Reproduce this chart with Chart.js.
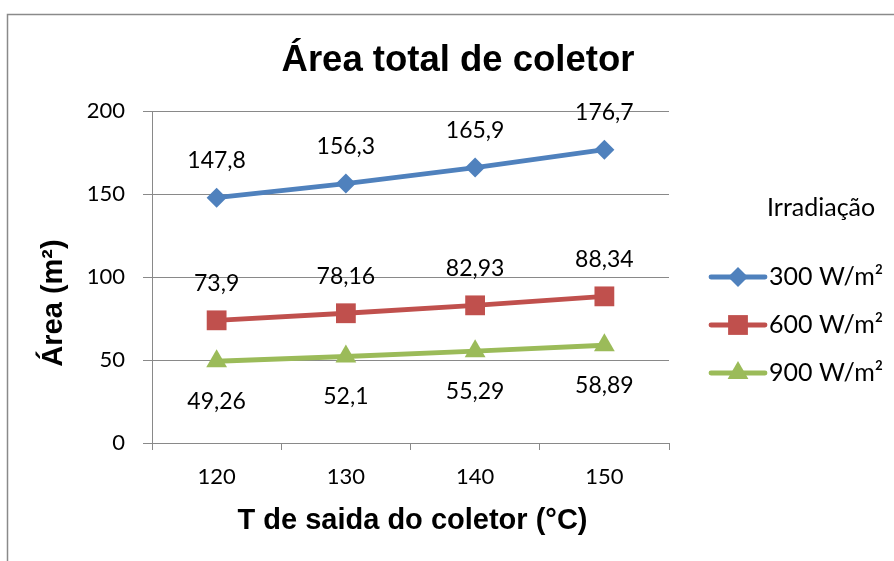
<!DOCTYPE html>
<html>
<head>
<meta charset="utf-8">
<script src="https://cdn.jsdelivr.net/npm/chart.js@4/dist/chart.umd.min.js"></script>
<style>
  html, body { margin: 0; padding: 0; background: #fff; }
  #wrap { position: relative; width: 894px; height: 561px; }
</style>
</head>
<body>
<div id="wrap"><canvas id="c" width="894" height="561"></canvas></div>
<script>
// Outlet temperature of the collector (°C)
const temperatures = ['120', '130', '140', '150'];
// Total collector area (m²) per irradiance level
const area300 = [147.8, 156.3, 165.9, 176.7];
const area600 = [73.9, 78.16, 82.93, 88.34];
const area900 = [49.26, 52.1, 55.29, 58.89];
const seriesNames = ['300 W/m²', '600 W/m²', '900 W/m²'];
const legendHeading = 'Irradiação';
const yTicks = [0, 50, 100, 150, 200];

const chartTitle = 'Área total de coletor';
const xTitle = 'T de saida do coletor (°C)';
const yTitle = 'Área (m²)';

const BLUE = '#4F81BD', RED = '#C0504D', GREEN = '#9BBB59';
const GRID = '#898989';
const LABEL_FONT = '23px Lato';
const LEGEND_FONT = '25px Lato';
const BOLD = 'bold 29px "Liberation Sans", Arial, sans-serif';

function fmt(v) { return String(v).replace('.', ','); }

function marker(ctx, style, x, y, r, color) {
  ctx.save();
  ctx.fillStyle = color;
  ctx.beginPath();
  if (style === 'rectRot') {
    ctx.moveTo(x - r, y); ctx.lineTo(x, y - r); ctx.lineTo(x + r, y); ctx.lineTo(x, y + r);
  } else if (style === 'rect') {
    const s = r * Math.SQRT1_2;
    ctx.rect(x - s, y - s, 2 * s, 2 * s);
  } else {
    const w = r * Math.cos(Math.PI / 6), h = r * Math.sin(Math.PI / 6);
    ctx.moveTo(x, y - r); ctx.lineTo(x + w, y + h); ctx.lineTo(x - w, y + h);
  }
  ctx.closePath();
  ctx.fill();
  ctx.restore();
}

// frame, titles, value labels and legend
const decorations = {
  id: 'decorations',
  beforeDraw(chart) {
    const ctx = chart.ctx;
    ctx.save();
    ctx.strokeStyle = '#8a8a8a';
    ctx.lineWidth = 1.5;
    ctx.beginPath();
    ctx.moveTo(7.5, 561);
    ctx.lineTo(7.5, 14.5);
    ctx.lineTo(894, 14.5);
    ctx.stroke();
    ctx.restore();
  },
  afterDatasetsDraw(chart) {
    const ctx = chart.ctx;
    ctx.save();
    ctx.fillStyle = '#000';
    ctx.font = LABEL_FONT;
    ctx.textAlign = 'center';
    ctx.textBaseline = 'middle';
    const offsets = [-37, -37, 40];
    chart.data.datasets.forEach((ds, di) => {
      const meta = chart.getDatasetMeta(di);
      meta.data.forEach((pt, i) => {
        ctx.fillText(fmt(ds.data[i]), pt.x, pt.y + offsets[di]);
      });
    });
    ctx.restore();
  },
  afterDraw(chart) {
    const ctx = chart.ctx;
    const area = chart.chartArea;
    ctx.save();
    ctx.fillStyle = '#000';
    // chart title
    ctx.font = 'bold 36.5px "Liberation Sans", Arial, sans-serif';
    ctx.textAlign = 'center';
    ctx.textBaseline = 'alphabetic';
    ctx.fillText(chartTitle, 458, 71);
    // x axis title
    ctx.font = BOLD;
    ctx.fillText(xTitle, (area.left + area.right) / 2 + 2, 529);
    // y axis title
    ctx.save();
    ctx.translate(62, 303);
    ctx.rotate(-Math.PI / 2);
    ctx.fillText(yTitle, 0, 0);
    ctx.restore();
    // legend
    ctx.font = LEGEND_FONT;
    ctx.textAlign = 'left';
    ctx.textBaseline = 'middle';
    ctx.fillText(legendHeading, 767, 208);
    chart.data.datasets.forEach((ds, i) => {
      const y = 277 + i * 48;
      ctx.strokeStyle = ds.borderColor;
      ctx.lineWidth = ds.borderWidth;
      ctx.lineCap = 'round';
      ctx.beginPath();
      ctx.moveTo(711, y);
      ctx.lineTo(765, y);
      ctx.stroke();
      marker(ctx, ds.pointStyle, 738, y, ds.pointRadius, ds.backgroundColor);
      ctx.fillStyle = '#000';
      ctx.fillText(ds.label, 769, y);
    });
    ctx.restore();
  }
};

new Chart(document.getElementById('c'), {
  type: 'line',
  data: {
    labels: temperatures,
    datasets: [
      { label: seriesNames[0], data: area300, borderColor: BLUE, backgroundColor: BLUE,
        borderWidth: 4.8, pointStyle: 'rectRot', pointRadius: 10, pointBorderWidth: 0 },
      { label: seriesNames[1], data: area600, borderColor: RED, backgroundColor: RED,
        borderWidth: 4.8, pointStyle: 'rect', pointRadius: 14, pointBorderWidth: 0 },
      { label: seriesNames[2], data: area900, borderColor: GREEN, backgroundColor: GREEN,
        borderWidth: 4.8, pointStyle: 'triangle', pointRadius: 12, pointBorderWidth: 0 }
    ]
  },
  options: {
    responsive: false,
    animation: false,
    events: [],
    layout: { padding: { left: 20, top: 111, right: 225, bottom: 20 } },
    plugins: { legend: { display: false }, title: { display: false }, tooltip: { enabled: false } },
    scales: {
      x: {
        offset: true,
        afterFit(scale) { scale.height = 98; },
        grid: { offset: true, drawOnChartArea: false, color: GRID, tickLength: 7, lineWidth: 1 },
        border: { display: true, color: GRID, width: 1 },
        ticks: { color: '#000', font: { family: 'Lato', size: 22 }, padding: 14, maxRotation: 0 }
      },
      y: {
        min: 0,
        max: 200,
        afterFit(scale) { scale.width = 132; },
        afterBuildTicks(scale) { scale.ticks = yTicks.map(v => ({ value: v })); },
        grid: { color: GRID, tickLength: 9, lineWidth: 1 },
        border: { display: true, color: GRID, width: 1 },
        ticks: { color: '#000', font: { family: 'Lato', size: 22 }, padding: 18 }
      }
    }
  },
  plugins: [decorations]
});
</script>
</body>
</html>
